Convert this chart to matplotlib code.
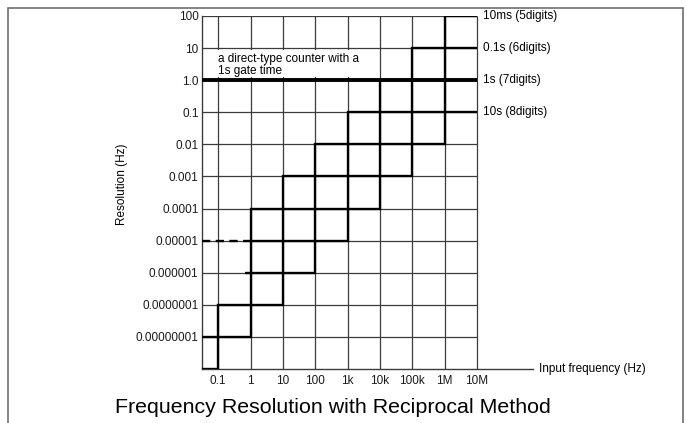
import numpy as np
import matplotlib
matplotlib.use('agg')
import matplotlib.pyplot as plt
from matplotlib.patches import Rectangle

plt.rcParams['font.family'] = ['Liberation Sans', 'DejaVu Sans']

# axis ticks
freq_ticks = [0.1, 1, 10, 100, 1e3, 1e4, 1e5, 1e6, 1e7]
freq_labels = ['0.1', '1', '10', '100', '1k', '10k', '100k', '1M', '10M']
res_ticks = [100, 10, 1, 0.1, 0.01, 1e-3, 1e-4, 1e-5, 1e-6, 1e-7, 1e-8]
res_labels = ['100', '10', '1.0', '0.1', '0.01', '0.001', '0.0001', '0.00001',
              '0.000001', '0.0000001', '0.00000001']

# decade edges of input frequency (Hz); first edge is half a decade below 0.1
f_edges = [10 ** -1.5, 0.1, 1, 10, 100, 1e3, 1e4, 1e5, 1e6, 1e7]
# resolution in each decade for each gate time (None = not drawn)
res_10ms = [None, None, 1e-4, 1e-3, 1e-2, 1e-1, 1, 10, 100]
res_100ms = [None, None, 1e-5, 1e-4, 1e-3, 1e-2, 1e-1, 1, 10]
res_1s = [1e-8, 1e-7, 1e-6, 1e-5, 1e-4, 1e-3, 1e-2, 1e-1, 1]
res_10s = [1e-9, 1e-8, 1e-7, 1e-6, 1e-5, 1e-4, 1e-3, 1e-2, 1e-1]
gate_labels = ['10ms (5digits)', '0.1s (6digits)', '1s (7digits)', '10s (8digits)']
# below 1 Hz
tail_10ms = 1e-5      # dashed
tail_100ms = 1e-6     # short stub
stub_start = 10 ** -0.18
# direct-type counter, 1s gate
direct_res = 1.0

grid_c = '#3c3c3c'


def stair_xy(edges, values, start=()):
    xs = [p[0] for p in start]
    ys = [p[1] for p in start]
    for i, v in enumerate(values):
        if v is None:
            continue
        xs += [edges[i], edges[i + 1]]
        ys += [v, v]
    return xs, ys


fig = plt.figure(figsize=(6.87, 4.23), dpi=100)
fig.patches.append(Rectangle((8 / 687, -0.2), 675 / 687, 1.2 - 8 / 423, transform=fig.transFigure,
                             fill=False, edgecolor='#6e6e6e', lw=1.2))

ax = fig.add_axes([202 / 687, 1 - 369 / 423, 331 / 687, 353 / 423])
ax.set_xscale('log')
ax.set_yscale('log')
ax.set_xlim(10 ** -1.5, 10 ** 8.73)
ax.set_ylim(1e-9, 100)

# grid
ax.vlines(freq_ticks, 1e-9, 100, color=grid_c, lw=0.9, zorder=1)
ax.hlines(res_ticks, 10 ** -1.5, 1e7, color=grid_c, lw=0.9, zorder=1)

# staircases
kw = dict(color='black', lw=1.7, solid_joinstyle='miter', solid_capstyle='butt', zorder=3)
x, y = stair_xy(f_edges, res_10ms, start=[(1, tail_10ms)])
ax.plot(x, y, **kw)
ax.plot([f_edges[0], 1], [tail_10ms, tail_10ms], color='black', lw=1.7, ls=(0, (3.5, 2.3)),
        dash_capstyle='butt', zorder=3)
x, y = stair_xy(f_edges, res_100ms, start=[(stub_start, tail_100ms), (1, tail_100ms)])
ax.plot(x, y, **kw)
x, y = stair_xy(f_edges, res_1s)
ax.plot(x, y, **kw)
x, y = stair_xy(f_edges, res_10s)
ax.plot(x, y, **kw)

ax.plot([f_edges[0], f_edges[-1]], [direct_res, direct_res], color='black', lw=2.8,
        solid_capstyle='butt', zorder=4)

# labels at the right end of each staircase
for lab, ser in zip(gate_labels, [res_10ms, res_100ms, res_1s, res_10s]):
    ax.text(10 ** 7.19, ser[-1], lab, fontsize=8.5, ha='left', va='center')

# white patch behind the annotation hides the grid there
ax.add_patch(Rectangle((10 ** -1.47, 10 ** 0.10), 10 ** 3.5 - 10 ** -1.47, 10 ** 0.94 - 10 ** 0.10,
                       facecolor='white', edgecolor='none', zorder=2))
ax.text(0.1, 10 ** 0.085, 'a direct-type counter with a\n1s gate time', fontsize=8.5,
        ha='left', va='bottom', linespacing=1.1, zorder=5)

ax.text(1.018, 0, 'Input frequency (Hz)', transform=ax.transAxes, fontsize=8.5,
        ha='left', va='center')

ax.set_xticks(freq_ticks, freq_labels)
ax.set_yticks(res_ticks, res_labels)
ax.minorticks_off()
ax.tick_params(length=0, labelsize=8.5, colors='#1a1a1a')
ax.tick_params(axis='y', pad=2.5)
ax.tick_params(axis='x', pad=4)

for s in ['top', 'right']:
    ax.spines[s].set_visible(False)
for s in ['left', 'bottom']:
    ax.spines[s].set_color(grid_c)
    ax.spines[s].set_linewidth(1.0)

fig.text(122 / 687, 1 - 184 / 423, 'Resolution (Hz)', rotation=90, fontsize=8.5,
         ha='center', va='center')
fig.text(332.5 / 687, 1 - 407 / 423, 'Frequency Resolution with Reciprocal Method',
         fontsize=15.4, ha='center', va='center')

plt.savefig('out.png', dpi=100)
